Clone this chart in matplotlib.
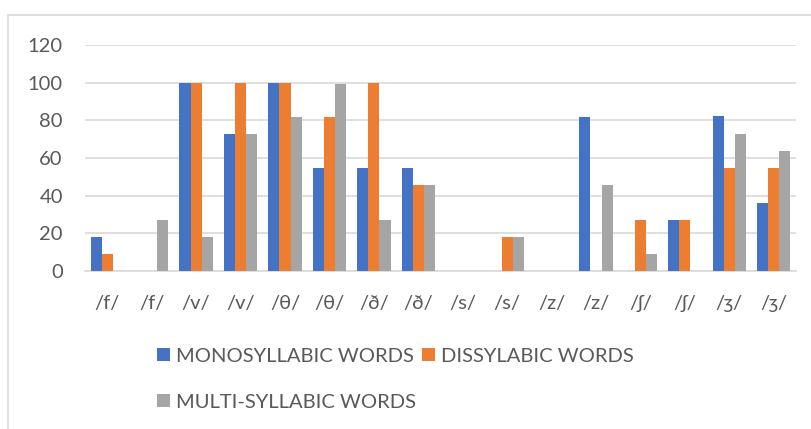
import matplotlib
matplotlib.use("Agg")
import matplotlib.pyplot as plt
import numpy as np
from matplotlib.patches import Rectangle

plt.rcParams['font.family'] = ['Lato', 'DejaVu Sans']

# data
categories = ["/f/", "/f/", "/v/", "/v/", "/θ/", "/θ/", "/ð/", "/ð/",
              "/s/", "/s/", "/z/", "/z/", "/ʃ/", "/ʃ/", "/ʒ/", "/ʒ/"]
mono = [18.18, 0, 100, 72.73, 100, 54.55, 54.55, 54.55,
        0, 0, 0, 81.82, 0, 27.27, 82.2, 36.36]
dissy = [9.09, 0, 100, 100, 100, 81.82, 100, 45.45,
         0, 18.18, 0, 0, 27.27, 27.27, 54.55, 54.55]
multi = [0, 27.27, 18.18, 72.73, 81.82, 99.2, 27.27, 45.45,
         0, 18.18, 0, 45.45, 9.09, 0, 72.73, 63.64]
series_names = ["MONOSYLLABIC WORDS", "DISSYLABIC WORDS", "MULTI-SYLLABIC WORDS"]
colors = ["#4472C4", "#ED7D31", "#A5A5A5"]
yticks = [0, 20, 40, 60, 80, 100, 120]

fig = plt.figure(figsize=(8.11, 4.29), dpi=100)
ax = fig.add_axes([85 / 811, 1 - 271 / 429, (796 - 85) / 811, (271 - 45) / 429])

x = np.arange(len(categories))
w = 0.25
bars = []
for i, (vals, c, name) in enumerate(zip([mono, dissy, multi], colors, series_names)):
    b = ax.bar(x + (i - 1) * w, vals, width=w, color=c, label=name, zorder=3)
    bars.append(b)

ax.set_xlim(-0.5, len(categories) - 0.5)
ax.set_ylim(0, 120)
ax.set_yticks(yticks)
ax.set_xticks(x)
ax.set_xticklabels(categories)
ax.yaxis.grid(True, color="#d9d9d9", linewidth=1.2, zorder=0)
for s in ["top", "right", "left"]:
    ax.spines[s].set_visible(False)
ax.spines["bottom"].set_color("#d9d9d9")
ax.spines["bottom"].set_linewidth(1.2)
ax.tick_params(axis="both", length=0, colors="#595959", labelsize=14.5)
ax.tick_params(axis="x", pad=17)
ax.tick_params(axis="y", pad=16)

leg_kw = dict(loc="center left", frameon=False, fontsize=14.5,
              handlelength=0.65, handleheight=0.65, handletextpad=0.3,
              columnspacing=0.4, labelcolor="#595959", borderaxespad=0, borderpad=0)
fig.legend(bars[:2], series_names[:2], ncol=2,
           bbox_to_anchor=(157 / 811, 1 - 356 / 429), **leg_kw)
fig.legend(bars[2:], series_names[2:],
           bbox_to_anchor=(157 / 811, 1 - 402 / 429), **leg_kw)

# chart border
fig.add_artist(Rectangle((8 / 811, -0.1), 1.2, 1 - 15 / 429 + 0.1,
                         transform=fig.transFigure, fill=False,
                         edgecolor="#d9d9d9", linewidth=1.2))

fig.savefig("out.png", dpi=100)
